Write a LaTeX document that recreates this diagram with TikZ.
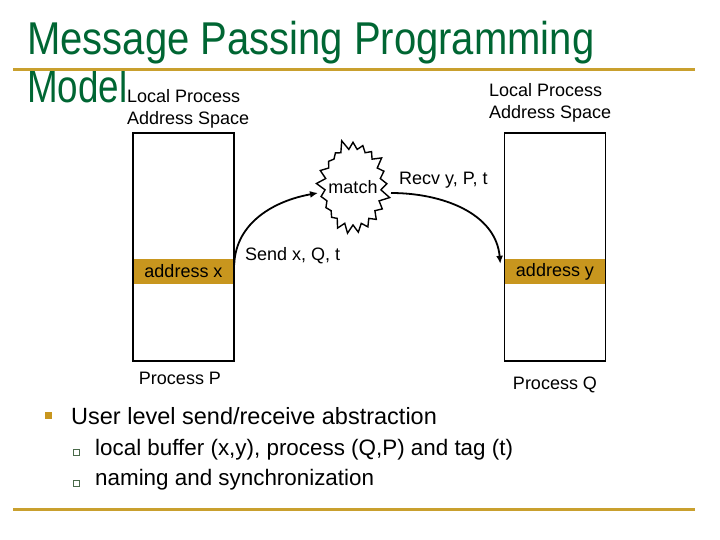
\documentclass[tikz,border=0pt]{standalone}
\usepackage{fontspec}
\setmainfont{Liberation Sans}
\usepackage{tikz}
\usetikzlibrary{positioning,calc,shapes.symbols,arrows.meta}
\definecolor{slidegreen}{HTML}{006633}
\definecolor{slidegold}{HTML}{C9A02E}
\definecolor{bandgold}{HTML}{C8961E}
\definecolor{subgreen}{HTML}{4A6A4A}

\begin{document}
\begin{tikzpicture}[x=1pt,y=1pt,
  procbox/.style={draw=black, line width=1.6pt, minimum width=101pt, minimum height=228pt, inner sep=0pt},
  addrband/.style={fill=bandgold, minimum width=101pt, minimum height=25pt, inner sep=0pt, font=\fontsize{18}{20}\selectfont},
  lbl/.style={font=\fontsize{18}{22}\selectfont, inner sep=0pt},
  burst/.style={starburst, draw=black, line width=1.4pt, fill=white, starburst points=21, starburst point height=11pt, random starburst=5, minimum width=78pt, minimum height=98pt, inner sep=0pt},
  msgarrow/.style={line width=1.8pt, -{Latex[length=8pt,width=7pt]}},
  rule/.style={draw=slidegold, line width=3pt},
  bul/.style={font=\fontsize{23.5}{26}\selectfont, inner sep=0pt, anchor=west},
  subbul/.style={font=\fontsize{22.4}{26}\selectfont, inner sep=0pt, anchor=west},
  subsq/.style={draw=subgreen, line width=1pt, minimum size=6pt, inner sep=0pt},
]
\useasboundingbox (0,0) rectangle (720,540);
% title and rules
\node[font=\fontsize{46}{50}\selectfont\color{slidegreen}, anchor=base west, inner sep=0pt] (title) at (27,485) {\scalebox{0.87}[1]{Message Passing Programming}};
\node[font=\fontsize{46}{50}\selectfont\color{slidegreen}, anchor=base west, inner sep=0pt] (model) at (27,437) {\scalebox{0.8}[1]{Model}};
\draw[rule] (13,470) -- (695,470);
\draw[rule] (13,30) -- (695,30);

% address spaces
\node[lbl, align=left, anchor=west] (spaceP) at (127,431) {Local Process\\Address Space};
\node[lbl, align=left, anchor=west] (spaceQ) at (489,437.5) {Local Process\\Address Space};
\node[addrband] (addrx) at (183.5,268.5) {address x};
\node[addrband] (addry) at (555,268.5) {address y};
\node[procbox] (boxP) at (183.5,293) {};
\node[procbox] (boxQ) at (555,293) {};
\node[lbl] (procP) at (180,162) {Process P};
\node[lbl] (procQ) at (555,155) {Process Q};

% matching
\node[burst] (match) at (353,353) {};
\node[lbl] (matchtxt) at (match.center) {match};
\node[lbl, anchor=west] (send) at (245,284) {Send x, Q, t};
\node[lbl, anchor=west] (recv) at (399,360) {Recv y, P, t};
\draw[msgarrow] ($(addrx.north east)+(0,-6)$) to[out=88,in=190] ($(match.center)+(-35,-6)$);
\draw[msgarrow] ($(match.center)+(38,-6)$) to[out=0,in=95] ($(addry.north west)+(-4,-5)$);

% bullets
\node[fill=bandgold, minimum size=7pt, inner sep=0pt] (b1) at (48,124) {};
\node[bul] (t1) at (71,124) {User level send/receive abstraction};
\node[subsq] (b2) at (76,87) {};
\node[subbul] (t2) at (95,90) {local buffer (x,y), process (Q,P) and tag (t)};
\node[subsq] (b3) at (76,56) {};
\node[subbul] (t3) at (95,60) {naming and synchronization};
\end{tikzpicture}
\end{document}
